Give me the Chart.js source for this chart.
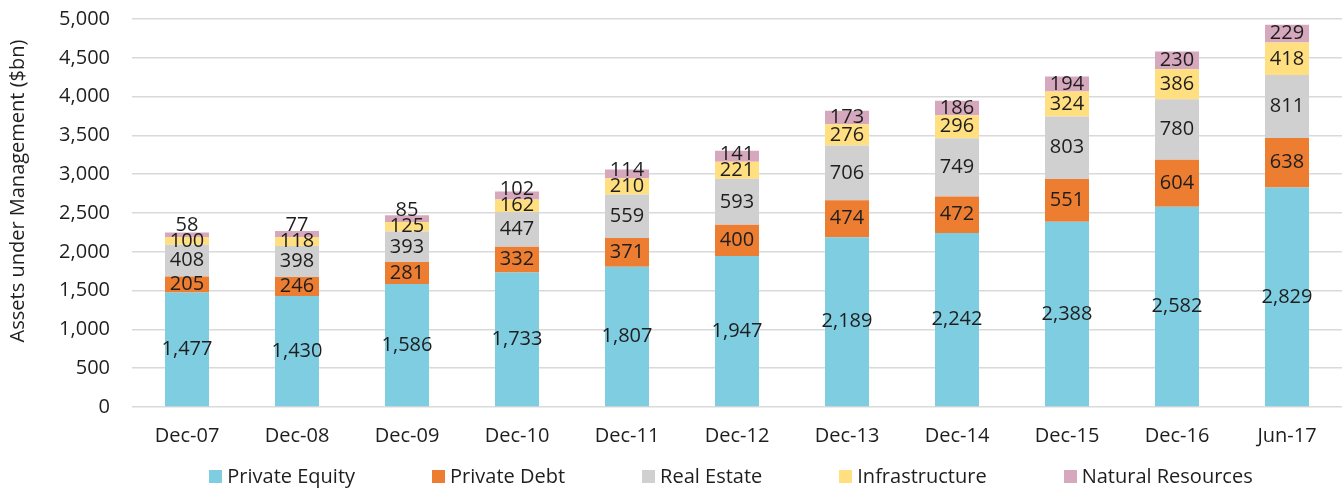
<!DOCTYPE html>
<html>
<head>
<meta charset="utf-8">
<title>Assets under Management</title>
<script src="https://cdn.jsdelivr.net/npm/chart.js@4/dist/chart.umd.min.js"></script>
<style>
body { margin: 0; background: #fff; font-family: "Open Sans", sans-serif; overflow: hidden; }
#page { position: relative; width: 1342px; height: 488px; overflow: hidden; }
#wrap { position: absolute; left: 0; top: -15px; width: 1342px; height: 485px; }
#legend {
    position: absolute;
    left: 0;
    top: 452px;
    box-sizing: border-box;
    width: 1342px;
    height: 36px;
    padding-left: 120px;
    padding-top: 12px;
    display: flex;
    justify-content: center;
    gap: 77px;
    font-size: 20px;
    line-height: 22px;
    color: #1e1e1e;
}
#legend span.item { display: flex; align-items: center; white-space: nowrap; }
#legend span.box { display: inline-block; width: 13px; height: 13px; margin-right: 5px; }
</style>
</head>
<body>
<div id="page">
<div id="wrap"><canvas id="aumChart"></canvas></div>
<div id="legend"></div>
</div>
<script>
// 数据
const categories = ["Dec-07", "Dec-08", "Dec-09", "Dec-10", "Dec-11", "Dec-12", "Dec-13", "Dec-14", "Dec-15", "Dec-16", "Jun-17"];
const privateEquity = [1477, 1430, 1586, 1733, 1807, 1947, 2189, 2242, 2388, 2582, 2829];
const privateDebt = [205, 246, 281, 332, 371, 400, 474, 472, 551, 604, 638];
const realEstate = [408, 398, 393, 447, 559, 593, 706, 749, 803, 780, 811];
const infrastructure = [100, 118, 125, 162, 210, 221, 276, 296, 324, 386, 418];
const naturalResources = [58, 77, 85, 102, 114, 141, 173, 186, 194, 230, 229];
const seriesNames = ["Private Equity", "Private Debt", "Real Estate", "Infrastructure", "Natural Resources"];
const seriesColors = ["#7fcde0", "#ed7d31", "#d0d0d0", "#ffdf80", "#d5a8bd"];
const yTitle = "Assets under Management ($bn)";

const FONT = "'Open Sans', sans-serif";
const TEXT = "#1e1e1e";

// 柱内数值标签（太挤时往上推一点，像Excel那样）
const segmentLabels = {
    id: 'segmentLabels',
    afterDatasetsDraw(chart) {
        const c = chart.ctx;
        const minGap = 16;
        c.save();
        c.font = "20px " + FONT;
        c.fillStyle = TEXT;
        c.textAlign = 'center';
        c.textBaseline = 'middle';
        chart.data.labels.forEach(function(lbl, j) {
            let prevY = null;
            chart.data.datasets.forEach(function(ds, i) {
                const bar = chart.getDatasetMeta(i).data[j];
                let y = (bar.y + bar.base) / 2;
                if (prevY !== null && prevY - y < minGap) {
                    y = prevY - minGap;
                }
                c.fillText(ds.data[j].toLocaleString('en-US'), bar.x, y);
                prevY = y;
            });
        });
        c.restore();
    }
};

// y轴标题，Excel里不是正好居中，稍微偏上
const axisTitle = {
    id: 'axisTitle',
    afterDraw(chart) {
        const c = chart.ctx;
        const area = chart.chartArea;
        c.save();
        c.translate(18, (area.top + area.bottom) / 2 - 22);
        c.rotate(-Math.PI / 2);
        c.font = "20px " + FONT;
        c.fillStyle = TEXT;
        c.textAlign = 'center';
        c.textBaseline = 'middle';
        c.fillText(yTitle, 0, 0);
        c.restore();
    }
};

const allSeries = [privateEquity, privateDebt, realEstate, infrastructure, naturalResources];
const datasets = allSeries.map(function(values, i) {
    return {
        label: seriesNames[i],
        data: values,
        backgroundColor: seriesColors[i],
        borderWidth: 0,
        barPercentage: 0.4,
        categoryPercentage: 1
    };
});

const ctx = document.getElementById('aumChart').getContext('2d');
const aumChart = new Chart(ctx, {
    type: 'bar',
    data: { labels: categories, datasets: datasets },
    options: {
        responsive: true,
        maintainAspectRatio: false,
        animation: false,
        layout: { padding: { top: 3, right: 0, bottom: 5, left: 0 } },
        plugins: {
            legend: { display: false },
            tooltip: { enabled: false }
        },
        scales: {
            x: {
                stacked: true,
                grid: { display: false, drawTicks: false },
                border: { display: false },
                ticks: { font: { family: FONT, size: 20 }, color: TEXT, padding: 17, maxRotation: 0 }
            },
            y: {
                stacked: true,
                min: 0,
                max: 5000,
                afterFit: function(scale) { scale.width = 132; },
                grid: { color: "#d9d9d9", lineWidth: 1.5, drawTicks: false },
                border: { display: false },
                ticks: {
                    stepSize: 500,
                    padding: 22,
                    font: { family: FONT, size: 20 },
                    color: TEXT,
                    callback: function(v) { return v.toLocaleString('en-US'); }
                }
            }
        }
    },
    plugins: [segmentLabels, axisTitle]
});

// 图例
const legend = document.getElementById('legend');
seriesNames.forEach(function(name, i) {
    const item = document.createElement('span');
    item.className = 'item';
    const box = document.createElement('span');
    box.className = 'box';
    box.style.background = seriesColors[i];
    item.appendChild(box);
    item.appendChild(document.createTextNode(name));
    legend.appendChild(item);
});
</script>
</body>
</html>
